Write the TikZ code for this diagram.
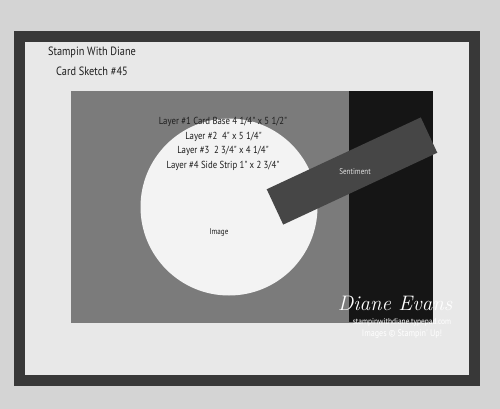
\documentclass[tikz,border=0pt]{standalone}
\usepackage{fontspec}
\newfontfamily\hand[FakeStretch=0.86]{PT Sans}
\newfontfamily\scriptf{Latin Modern Roman}
\definecolor{bgc}{HTML}{D4D4D4}
\definecolor{darkcard}{HTML}{383838}
\definecolor{whitecard}{HTML}{E8E8E8}
\definecolor{panelc}{HTML}{7B7B7B}
\definecolor{blackc}{HTML}{151515}
\definecolor{circc}{HTML}{F3F3F3}
\definecolor{stripc}{HTML}{464646}
\definecolor{inkc}{HTML}{1E1E1E}
\begin{document}
\begin{tikzpicture}[x=1pt,y=-1pt,
  lbl/.style={font=\hand\fontsize{10.2}{11}\selectfont, text=inkc, inner sep=0pt, anchor=center},
  title/.style={font=\hand\fontsize{12}{14}\selectfont, text=inkc, inner sep=0pt},
  wm/.style={text=white, inner sep=0pt}]
\useasboundingbox (0,0) rectangle (500,409);
\fill[bgc] (0,0) rectangle (500,409);
% card layers
\fill[darkcard] (14,31) rectangle (480,386);
\fill[whitecard] (25,42) rectangle (469,375);
\fill[panelc] (71,91) rectangle (433,323);
\fill[blackc] (349,91) rectangle (433,322);
\fill[circc] (229,207) circle[radius=88.5];
\node[fill=stripc, rotate=25, minimum width=170pt, minimum height=39pt, inner sep=0pt] (strip) at (352,171) {};
% texts
\node[title] (t1) at (92,52) {Stampin With Diane};
\node[title] (t2) at (92,71) {Card Sketch \#45};
\node[lbl] (l1) at (223,122) {Layer \#1 Card Base 4 1/4" x 5 1/2"};
\node[lbl] (l2) at (223.5,136.5) {Layer \#2\ \ 4" x 5 1/4"};
\node[lbl] (l3) at (223,151) {Layer \#3\ \ 2 3/4" x 4 1/4"};
\node[lbl] (l4) at (223,166) {Layer \#4 Side Strip 1" x 2 3/4"};
\node[lbl, font=\hand\fontsize{8.3}{9}\selectfont] (img) at (219,232) {Image};
\node[lbl, font=\hand\fontsize{8.3}{9}\selectfont, text=white!88!black] (sent) at (355,172) {Sentiment};
% watermark
\node[wm, font=\scriptf\itshape\fontsize{21}{22}\selectfont] (wm1) at (395,303) {Diane Evans};
\node[wm, font=\hand\fontsize{8.6}{9}\selectfont] (wm2) at (402,322) {stampinwithdiane.typepad.com};
\node[wm, font=\hand\fontsize{9.4}{10}\selectfont] (wm3) at (402,334) {Images © Stampin' Up!};
\end{tikzpicture}
\end{document}
